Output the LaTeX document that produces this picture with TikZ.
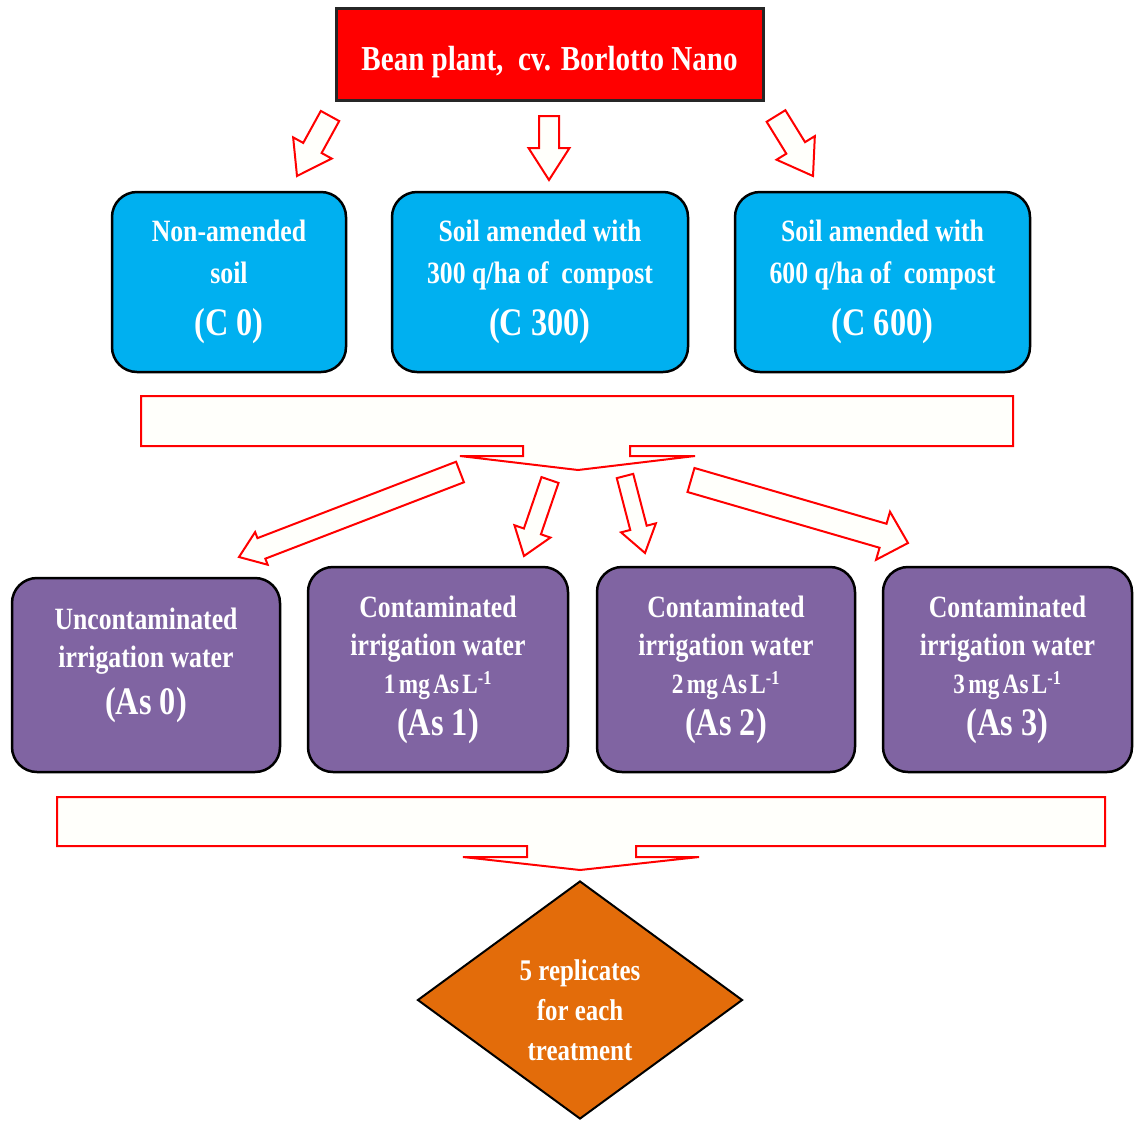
\documentclass[tikz,border=0pt]{standalone}
\usepackage{fontspec}
\setmainfont{Liberation Serif}[FakeStretch=0.83]
\usetikzlibrary{calc,shapes.geometric}
\definecolor{soilblue}{HTML}{00B0F0}
\definecolor{waterpurple}{HTML}{8064A2}
\definecolor{reporange}{HTML}{E36C0A}
\definecolor{arrfill}{HTML}{FFFFFB}
\newcommand{\lbl}{\fontsize{39}{43}\selectfont}
\newcommand{\dose}{\fontsize{28}{38}\selectfont}
\newcommand{\tsp}{\hspace{0.12em}}
% block arrow: tail, tip, half shaft, half head, head length
\newcommand{\blockarr}[5]{%
  \coordinate (neck) at ($(#2)!#5!(#1)$);
  \draw[blockarrow] ($(#1)!#3!90:(#2)$) -- ($(neck)!#3!-90:(#1)$) -- ($(neck)!#4!-90:(#1)$)
    -- (#2) -- ($(neck)!#4!90:(#1)$) -- ($(neck)!#3!90:(#1)$) -- ($(#1)!#3!-90:(#2)$) -- cycle;}
\begin{document}
\begin{tikzpicture}[x=1pt,y=-1pt,
  topbox/.style={draw=black!85,line width=3pt,fill=red,minimum width=427pt,minimum height=92pt,
    text=white,text height=38pt,text depth=6pt,font=\bfseries\fontsize{35}{42}\selectfont},
  soilbox/.style={draw=black,line width=2.5pt,fill=soilblue,rounded corners=25pt,minimum height=180pt,
    text=white,align=center,font=\bfseries\fontsize{31}{42}\selectfont},
  waterbox/.style={draw=black,line width=2.5pt,fill=waterpurple,rounded corners=25pt,minimum height=205pt,
    text=white,align=center,font=\bfseries\fontsize{31}{38}\selectfont},
  repbox/.style={diamond,draw=black,line width=2pt,fill=reporange,minimum width=325pt,minimum height=238pt,inner sep=0pt},
  reptext/.style={text=white,align=center,font=\bfseries\fontsize{30}{40}\selectfont},
  blockarrow/.style={draw=red,line width=2pt,fill=arrfill},
  barbox/.style={draw=red,line width=2pt,fill=arrfill}]
\useasboundingbox (0,0) rectangle (1134,1122);

\node[topbox] (bean) at (549.5,54) {Bean plant,\ \ cv. Borlotto Nano};

\node[soilbox,minimum width=234pt] (c0) at (229,282) {Non-amended\\soil\\[10pt]{\lbl (C 0)}};
\node[soilbox,minimum width=296pt] (c300) at (540,282) {Soil amended with\\300 q/ha of\ \ compost\\[10pt]{\lbl (C 300)}};
\node[soilbox,minimum width=295pt] (c600) at (882.5,282) {Soil amended with\\600 q/ha of\ \ compost\\[10pt]{\lbl (C 600)}};

% arrows from the plant to the soils
\coordinate (t1) at (330,116); \coordinate (h1) at (297,176);
\coordinate (t2) at (549,116); \coordinate (h2) at (549,180);
\coordinate (t3) at (776,116); \coordinate (h3) at (813,176);
\blockarr{t1}{h1}{10.5pt}{22pt}{32pt}
\blockarr{t2}{h2}{10pt}{20.5pt}{32pt}
\blockarr{t3}{h3}{11pt}{22.5pt}{33pt}

% collecting bars
\draw[barbox] (141,396) -- (1013,396) -- (1013,446) -- (630,446) -- (630,456) -- (695,456) -- (578,470)
  -- (460,456) -- (523,456) -- (523,446) -- (141,446) -- cycle;
\draw[barbox] (57,797) -- (1105,797) -- (1105,846) -- (636,846) -- (636,857) -- (699,857) -- (580,870)
  -- (463,857) -- (527,857) -- (527,846) -- (57,846) -- cycle;

\coordinate (s1) at (460,472); \coordinate (w1) at (239,557);
\coordinate (s2) at (550,480); \coordinate (w2) at (524,556);
\coordinate (s3) at (625,476); \coordinate (w3) at (645,553);
\coordinate (s4) at (691,480); \coordinate (w4) at (908,543);
\blockarr{s1}{w1}{11pt}{17.5pt}{24pt}
\blockarr{s2}{w2}{9pt}{19pt}{26pt}
\blockarr{s3}{w3}{8.5pt}{18pt}{26pt}
\blockarr{s4}{w4}{12.5pt}{25pt}{26pt}

\node[waterbox,minimum width=268pt,minimum height=194pt,text depth=28pt] (as0) at (146,675)
  {Uncontaminated\\irrigation water\\[9pt]{\lbl (As 0)}};
\node[waterbox,minimum width=260pt] (as1) at (438,669.5)
  {Contaminated\\irrigation water\\{\dose 1\tsp mg\tsp As\tsp L\textsuperscript{-1}}\\[4pt]{\lbl (As 1)}};
\node[waterbox,minimum width=258pt] (as2) at (726,669.5)
  {Contaminated\\irrigation water\\{\dose 2\tsp mg\tsp As\tsp L\textsuperscript{-1}}\\[4pt]{\lbl (As 2)}};
\node[waterbox,minimum width=249pt] (as3) at (1007.5,669.5)
  {Contaminated\\irrigation water\\{\dose 3\tsp mg\tsp As\tsp L\textsuperscript{-1}}\\[4pt]{\lbl (As 3)}};

\node[repbox] (rep) at (580,1000) {};
\node[reptext] (reptxt) at (580,1010) {5 replicates\\for each\\treatment};
\end{tikzpicture}
\end{document}
